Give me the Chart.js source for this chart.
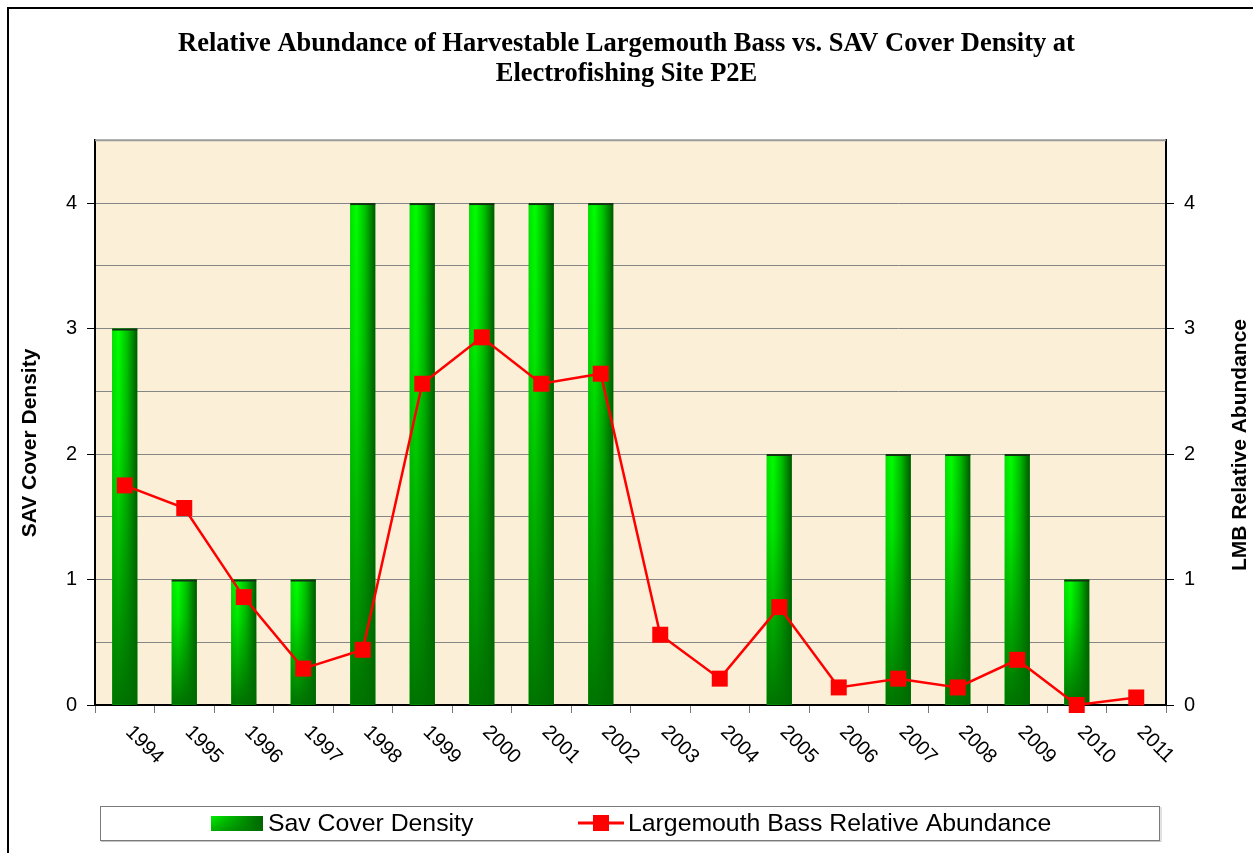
<!DOCTYPE html>
<html>
<head>
<meta charset="utf-8">
<title>LMB vs SAV - P2E</title>
<script src="https://cdn.jsdelivr.net/npm/chart.js@4.4.1/dist/chart.umd.min.js"></script>
<style>
    html, body { margin: 0; padding: 0; background: #fff; }
</style>
</head>
<body>
<canvas id="myChart" width="1253" height="853"></canvas>
<script>
// Dati
const years = ['1994', '1995', '1996', '1997', '1998', '1999', '2000', '2001', '2002',
    '2003', '2004', '2005', '2006', '2007', '2008', '2009', '2010', '2011'];
const savCover = [3, 1, 1, 1, 4, 4, 4, 4, 4, 0, 0, 2, 0, 2, 2, 2, 1, 0];
const lmbAbundance = [1.75, 1.57, 0.86, 0.29, 0.44, 2.56, 2.93, 2.56, 2.64,
    0.56, 0.21, 0.78, 0.14, 0.21, 0.14, 0.36, 0, 0.06];

const chartTitle = ['Relative Abundance of Harvestable Largemouth Bass vs. SAV Cover Density at',
    'Electrofishing Site P2E'];
const leftTitle = 'SAV Cover Density';
const rightTitle = 'LMB Relative Abundance';
const legendLabels = ['Sav Cover Density', 'Largemouth Bass Relative Abundance'];

const ctx = document.getElementById('myChart');

const sansFont = "'Liberation Sans', Arial, sans-serif";

// Etichetta solo sui valori interi, griglia ogni 0.5
function intLabel(v) {
    return Number.isInteger(v) ? v : '';
}
function tickCol(c) {
    return Number.isInteger(c.tick.value) ? '#000' : 'rgba(0,0,0,0)';
}

// Sfondo, cornice e area del grafico
const backgroundPlugin = {
    id: 'sfondo',
    beforeDraw(chart) {
        const c = chart.ctx;
        const a = chart.chartArea;
        c.save();
        c.fillStyle = '#fff';
        c.fillRect(0, 0, chart.width, chart.height);
        c.fillStyle = '#fcefd8';
        c.fillRect(a.left, a.top, a.right - a.left, a.bottom - a.top);
        c.strokeStyle = '#000';
        c.lineWidth = 2;
        c.strokeRect(8, 8, chart.width + 20, chart.height + 20);
        c.restore();
    }
};

// Riempimento sfumato delle barre (orizzontale + scurito verso il basso)
const barShadePlugin = {
    id: 'barre',
    afterDatasetDraw(chart, args) {
        if (args.index !== 0) return;
        const c = chart.ctx;
        c.save();
        args.meta.data.forEach(el => {
            const left = el.x - el.width / 2;
            const top = el.y;
            const bottom = el.base;
            if (bottom - top < 1) return;
            let g = c.createLinearGradient(left, 0, left + el.width, 0);
            g.addColorStop(0, '#00e400');
            g.addColorStop(0.25, '#00ff00');
            g.addColorStop(0.6, '#00c000');
            g.addColorStop(1, '#005800');
            c.fillStyle = g;
            c.fillRect(left, top, el.width, bottom - top);
            let g2 = c.createLinearGradient(0, top, 0, bottom);
            g2.addColorStop(0, 'rgba(0,110,0,0)');
            g2.addColorStop(0.3, 'rgba(0,110,0,0.15)');
            g2.addColorStop(1, 'rgba(0,108,0,0.95)');
            c.fillStyle = g2;
            c.fillRect(left, top, el.width, bottom - top);
            c.fillStyle = '#173317';
            c.fillRect(left, top, el.width, 2);
        });
        c.restore();
    }
};

// Etichette anni ruotate, titoli degli assi e legenda
const extrasPlugin = {
    id: 'extra',
    afterDraw(chart) {
        const c = chart.ctx;
        const a = chart.chartArea;
        const xs = chart.scales.x;
        c.save();

        // bordo superiore grigio
        c.strokeStyle = '#9a9a9a';
        c.lineWidth = 2;
        c.beginPath();
        c.moveTo(a.left, a.top);
        c.lineTo(a.right, a.top);
        c.stroke();

        // anni
        c.fillStyle = '#000';
        c.font = '20px ' + sansFont;
        c.textAlign = 'left';
        c.textBaseline = 'top';
        years.forEach((y, i) => {
            const px = xs.getPixelForValue(i);
            c.save();
            c.translate(px + 11, a.bottom + 17);
            c.rotate(Math.PI / 4);
            c.fillText(y, 0, 0);
            c.restore();
        });

        // titoli degli assi
        c.font = 'bold 21px ' + sansFont;
        c.textAlign = 'center';
        c.textBaseline = 'middle';
        c.save();
        c.translate(30, 443);
        c.rotate(-Math.PI / 2);
        c.fillText(leftTitle, 0, 0);
        c.restore();
        c.save();
        c.translate(1240, 445);
        c.rotate(-Math.PI / 2);
        c.fillText(rightTitle, 0, 0);
        c.restore();

        // legenda
        const ly = 823;
        c.fillStyle = '#fff';
        c.fillRect(100, 806, 1060, 34);
        c.strokeStyle = '#c4c4c4';
        c.lineWidth = 1;
        c.beginPath();
        c.moveTo(101, 841.5);
        c.lineTo(1161, 841.5);
        c.lineTo(1161, 807);
        c.stroke();
        c.strokeStyle = '#7a7a7a';
        c.strokeRect(100.5, 806.5, 1059, 34);

        let g = c.createLinearGradient(211, 0, 263, 0);
        g.addColorStop(0, '#00ee00');
        g.addColorStop(1, '#006200');
        c.fillStyle = g;
        c.fillRect(211, 816, 52, 15);
        let g2 = c.createLinearGradient(0, 816, 0, 831);
        g2.addColorStop(0, 'rgba(0,110,0,0)');
        g2.addColorStop(1, 'rgba(0,110,0,0.5)');
        c.fillStyle = g2;
        c.fillRect(211, 816, 52, 15);

        c.strokeStyle = '#ff0000';
        c.lineWidth = 3;
        c.beginPath();
        c.moveTo(578, ly);
        c.lineTo(624, ly);
        c.stroke();
        c.fillStyle = '#ff0000';
        c.fillRect(593, ly - 8, 16, 16);

        c.fillStyle = '#000';
        c.font = '24.8px ' + sansFont;
        c.textAlign = 'left';
        c.textBaseline = 'middle';
        c.fillText(legendLabels[0], 268, ly + 1);
        c.fillText(legendLabels[1], 628, ly + 1);

        c.restore();
    }
};

const graph = new Chart(ctx, {
    type: 'bar',
    data: {
        labels: years,
        datasets: [{
            type: 'bar',
            label: legendLabels[0],
            data: savCover,
            yAxisID: 'y',
            backgroundColor: '#00b000',
            borderWidth: 0,
            barPercentage: 0.42,
            categoryPercentage: 1,
            order: 1
        }, {
            type: 'line',
            label: legendLabels[1],
            data: lmbAbundance,
            yAxisID: 'y1',
            borderColor: '#ff0000',
            borderWidth: 2.5,
            backgroundColor: '#ff0000',
            pointStyle: 'rect',
            pointRadius: 11.3,
            pointBorderWidth: 0,
            pointBackgroundColor: '#ff0000',
            tension: 0,
            clip: false,
            order: 0
        }]
    },
    options: {
        responsive: false,
        animation: false,
        layout: {
            padding: { top: 0, left: 0, right: 0, bottom: 48 }
        },
        plugins: {
            legend: { display: false },
            tooltip: { enabled: false },
            title: {
                display: true,
                text: chartTitle,
                color: '#000',
                font: { family: "'Liberation Serif', 'Times New Roman', serif", size: 26.5, weight: 'bold', lineHeight: 1.1 },
                padding: { top: 30, bottom: 52 }
            }
        },
        scales: {
            x: {
                offset: true,
                ticks: { display: false },
                grid: { offset: true, drawOnChartArea: false, tickLength: 8, tickColor: '#777' },
                border: { color: '#000', width: 2 },
                afterFit: s => { s.height = 100; }
            },
            y: {
                position: 'left',
                min: 0,
                max: 4.5,
                ticks: { stepSize: 0.5, padding: 10, color: '#000', font: { family: sansFont, size: 20 }, callback: intLabel },
                grid: {
                    color: c => c.tick.value === 4.5 ? 'rgba(0,0,0,0)' : '#858585',
                    lineWidth: 1,
                    tickLength: 8,
                    tickColor: tickCol
                },
                border: { color: '#000', width: 2 },
                afterFit: s => { s.width = 95; }
            },
            y1: {
                position: 'right',
                min: 0,
                max: 4.5,
                ticks: { stepSize: 0.5, padding: 10, color: '#000', font: { family: sansFont, size: 20 }, callback: intLabel },
                grid: { drawOnChartArea: false, tickLength: 8, tickColor: tickCol },
                border: { color: '#000', width: 2 },
                afterFit: s => { s.width = 87; }
            }
        }
    },
    plugins: [backgroundPlugin, barShadePlugin, extrasPlugin]
});
</script>
</body>
</html>
